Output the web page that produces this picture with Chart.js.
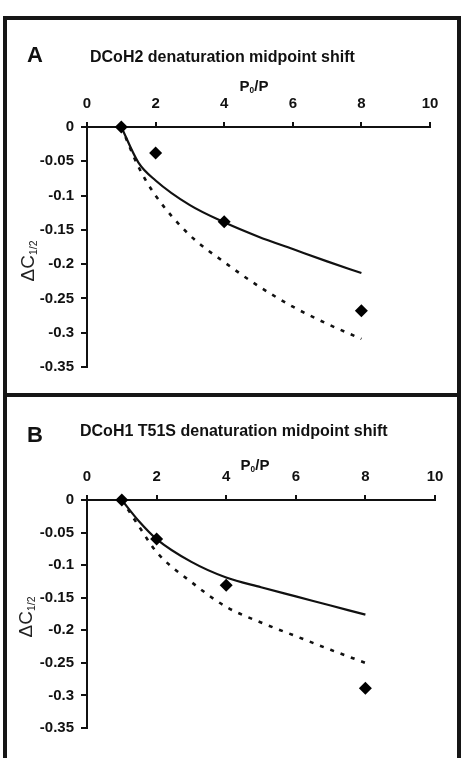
<!DOCTYPE html>
<html>
<head>
<meta charset="utf-8">
<script src="https://cdn.jsdelivr.net/npm/chart.js@4.4.1/dist/chart.umd.min.js"></script>
<style>
  html, body { margin: 0; padding: 0; background: #fff; }
  body { width: 464px; height: 758px; position: relative; overflow: hidden; font-family: "Liberation Sans", Arial, sans-serif; }
  .frame { position: absolute; left: 3px; top: 16px; width: 450px; height: 800px; border: 4px solid #161616; }
  .divider { position: absolute; left: 3px; top: 393px; width: 458px; height: 4px; background: #161616; }
  canvas { position: absolute; left: 0; }
  .lab { position: absolute; font-weight: bold; color: #111; white-space: nowrap; }
  .big { font-size: 22px; }
  .title { font-size: 16px; }
  .xt { font-size: 15px; transform: translateX(-50%); }
  .yt { font-size: 19px; font-weight: normal; color: #222; transform: translate(-50%, -50%) rotate(-90deg); }
  sub { font-size: 55%; vertical-align: -0.25em; }
  .yt sub { font-size: 55%; }
</style>
</head>
<body>
<div class="frame"></div>
<div class="divider"></div>
<canvas id="cA" width="464" height="394" style="top:0"></canvas>
<canvas id="cB" width="464" height="364" style="top:394px"></canvas>

<div class="lab big" style="left:27px; top:42px;">A</div>
<div class="lab title" style="left:90px; top:48px;">DCoH2 denaturation midpoint shift</div>
<div class="lab xt" style="left:254px; top:77px;">P<sub>0</sub>/P</div>
<div class="lab yt" style="left:28px; top:261px;">ΔC<sub>1/2</sub></div>

<div class="lab big" style="left:27px; top:422px;">B</div>
<div class="lab title" style="left:80px; top:422px;">DCoH1 T51S denaturation midpoint shift</div>
<div class="lab xt" style="left:255px; top:456px;">P<sub>0</sub>/P</div>
<div class="lab yt" style="left:26px; top:617px;">ΔC<sub>1/2</sub></div>

<script>
// ---- data ----
const xTickValues = [0, 2, 4, 6, 8, 10];
const xTickLabels = ['0', '2', '4', '6', '8', '10'];
const yTickValues = [0, -0.05, -0.1, -0.15, -0.2, -0.25, -0.3, -0.35];
const yTickLabels = ['0', '-0.05', '-0.1', '-0.15', '-0.2', '-0.25', '-0.3', '-0.35'];

const curveX = [1, 1.5, 2, 3, 4, 5, 6, 7, 8];
const pointX = [1, 2, 4, 8];

// Panel A: DCoH2
const aSolid  = [0, -0.052, -0.078, -0.114, -0.139, -0.160, -0.178, -0.196, -0.213];
const aDotted = [0, -0.058, -0.100, -0.158, -0.197, -0.232, -0.262, -0.287, -0.309];
const aPoints = [0, -0.038, -0.138, -0.268];

// Panel B: DCoH1 T51S
const bSolid  = [0, -0.033, -0.060, -0.095, -0.119, -0.134, -0.148, -0.162, -0.176];
const bDotted = [0, -0.041, -0.080, -0.126, -0.164, -0.188, -0.209, -0.230, -0.250];
const bPoints = [0, -0.060, -0.131, -0.289];

const FONT = '"Liberation Sans", Arial, sans-serif';

function pairs(xs, ys) { return xs.map((x, i) => ({ x: x, y: ys[i] })); }

function labelFor(values, labels, v) {
  for (let i = 0; i < values.length; i++) if (Math.abs(values[i] - v) < 1e-9) return labels[i];
  return '';
}

function makeChart(id, solid, dotted, pts, pad) {
  return new Chart(document.getElementById(id), {
    type: 'scatter',
    data: {
      datasets: [
        { data: pairs(curveX, dotted), showLine: true, borderColor: '#111', borderWidth: 2.6,
          borderDash: [4, 7], pointRadius: 0, cubicInterpolationMode: 'monotone', order: 3 },
        { data: pairs(curveX, solid), showLine: true, borderColor: '#111', borderWidth: 2.2,
          pointRadius: 0, cubicInterpolationMode: 'monotone', order: 2 },
        { data: pairs(pointX, pts), showLine: false, pointStyle: 'rectRot', pointRadius: 6.5,
          backgroundColor: '#000', borderColor: '#000', borderWidth: 0, order: 1 }
      ]
    },
    options: {
      responsive: false,
      animation: false,
      clip: false,
      layout: { padding: pad },
      plugins: { legend: { display: false }, tooltip: { enabled: false } },
      scales: {
        x: {
          type: 'linear', position: 'top', min: 0, max: 10,
          afterBuildTicks: (s) => { s.ticks = xTickValues.map(v => ({ value: v })); },
          afterFit: (s) => { s.height = 40; },
          ticks: { color: '#111', padding: 9, autoSkip: false, font: { family: FONT, size: 15, weight: 'bold' },
                   callback: (v) => labelFor(xTickValues, xTickLabels, v), maxRotation: 0 },
          grid: { display: true, drawOnChartArea: false, drawTicks: true, tickLength: 5, color: '#111', lineWidth: 2 },
          border: { display: true, color: '#111', width: 2 }
        },
        y: {
          type: 'linear', position: 'left', min: -0.35, max: 0,
          afterBuildTicks: (s) => { s.ticks = yTickValues.map(v => ({ value: v })); },
          afterFit: (s) => { s.width = 60; },
          ticks: { color: '#111', padding: 7, autoSkip: false, font: { family: FONT, size: 15, weight: 'bold' },
                   callback: (v) => labelFor(yTickValues, yTickLabels, v) },
          grid: { display: true, drawOnChartArea: false, drawTicks: true, tickLength: 6, color: '#111', lineWidth: 2 },
          border: { display: true, color: '#111', width: 2 }
        }
      }
    }
  });
}

makeChart('cA', aSolid, aDotted, aPoints, { left: 27, top: 87, right: 34, bottom: 27 });
makeChart('cB', bSolid, bDotted, bPoints, { left: 27, top: 66, right: 29, bottom: 30 });
</script>
</body>
</html>
